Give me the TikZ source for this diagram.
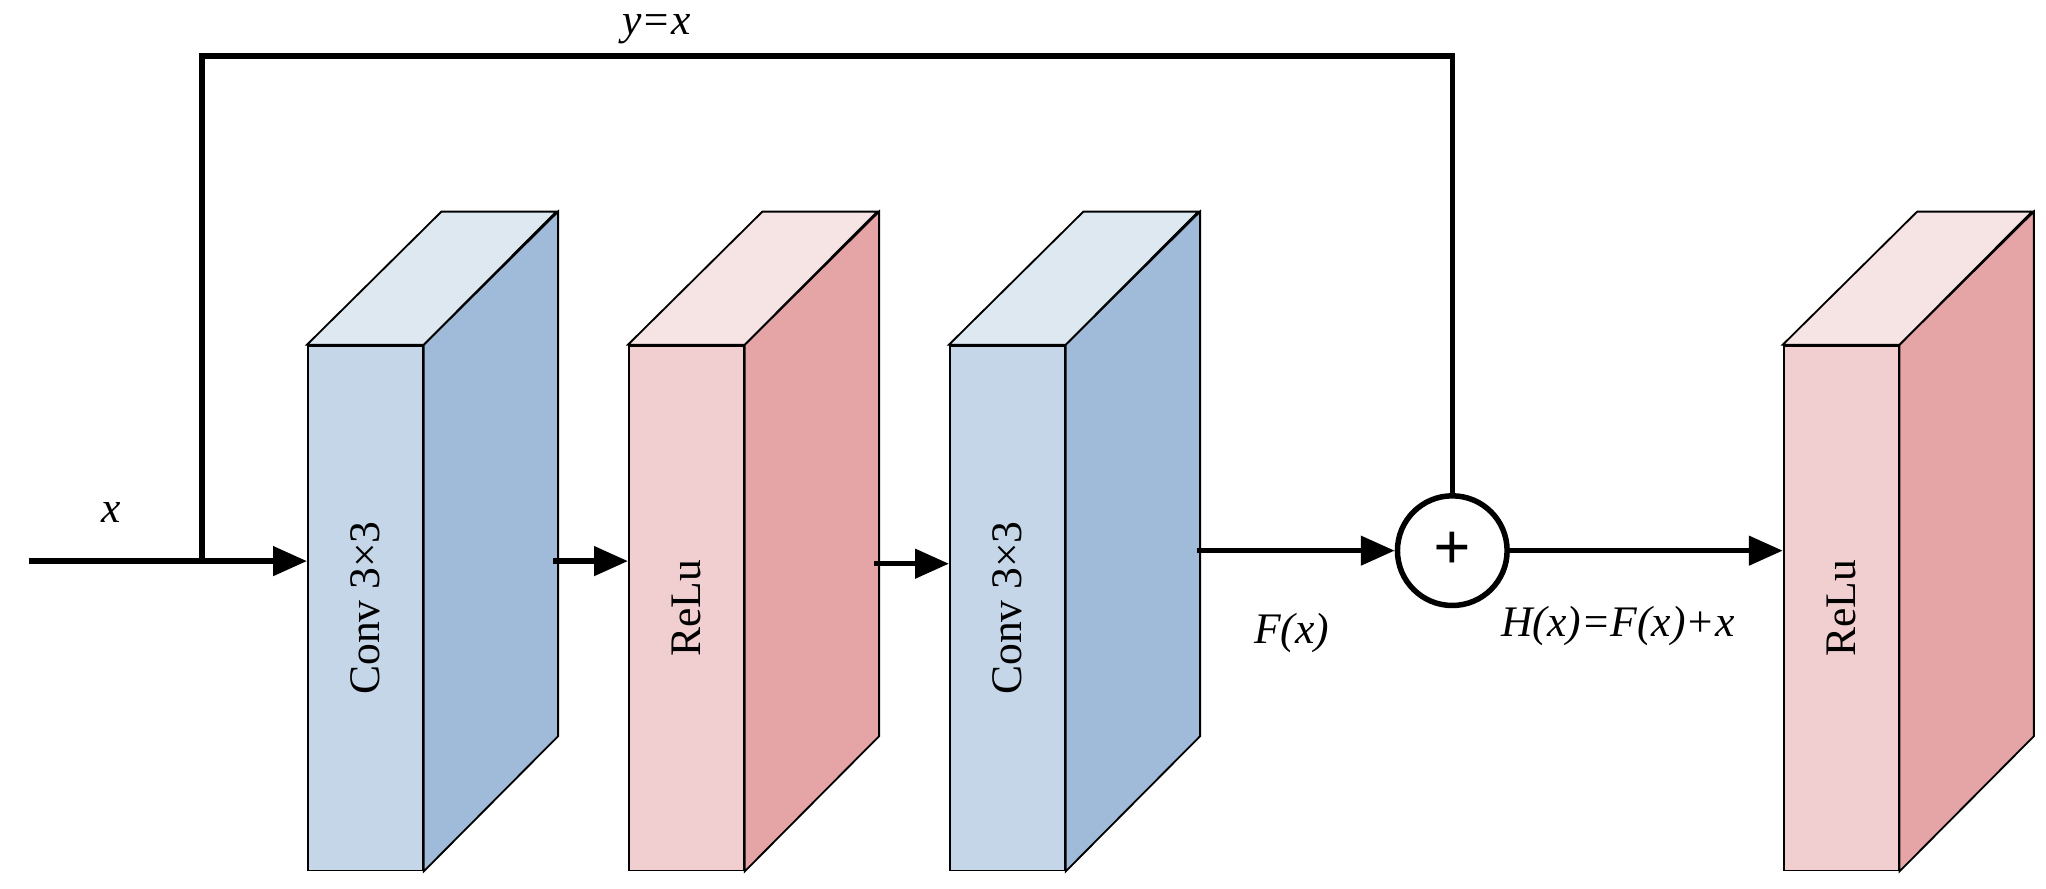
\documentclass[tikz,border=0pt]{standalone}
\usepackage{fontspec}
\setmainfont{Liberation Serif}
\usetikzlibrary{arrows.meta,calc}
\definecolor{bfront}{HTML}{C5D6E8}
\definecolor{bside}{HTML}{A0BBD9}
\definecolor{btop}{HTML}{DDE8F1}
\definecolor{pfront}{HTML}{F1CFD0}
\definecolor{pside}{HTML}{E5A5A6}
\definecolor{ptop}{HTML}{F6E3E4}
% one layer: name, left x, colour prefix, label
\newcommand*{\layer}[4]{%
  \node[face, fill=#3front] (#1) at (#2+44,466) {};
  \fill[#3side, draw=black, thin] (#1.north east) -- ++(103,-102) -- ++(0,402) -- (#1.south east) -- cycle;
  \fill[#3top, draw=black, thin] (#1.north west) -- ++(103,-102) -- ++(88,0) -- (#1.north east) -- cycle;
  \node[rotate=90, font=\fontsize{9.5}{11}\selectfont] at (#1) {#4};
}
\begin{document}
\begin{tikzpicture}[x=0.01cm, y=-0.01cm,
  face/.style={draw=black, thin, minimum width=0.88cm, minimum height=4.02cm, inner sep=0pt},
  flow/.style={line width=1.2pt, -{Triangle[length=0.26cm,width=0.22cm]}},
  lbl/.style={font=\itshape\fontsize{9.5}{11}\selectfont}]
  \useasboundingbox (0,0) rectangle (1568,681);
  \layer{conv1}{236}{b}{Conv 3\texttimes3}
  \layer{relu1}{482}{p}{ReLu}
  \layer{conv2}{728}{b}{Conv 3\texttimes3}
  \layer{relu2}{1367}{p}{ReLu}
  \node[circle, draw=black, line width=1.2pt, minimum size=0.84cm, inner sep=0pt,
    font=\bfseries\Large] (add) at (1113,422) {+};
  \coordinate (in) at (22,430);
  \coordinate (split) at (155,430);
  \coordinate (out1) at (424,430);
  \coordinate (out2) at (670,432);
  \coordinate (out3) at (917,422);
  \draw[line width=1.2pt] (in) -- (split);
  \draw[flow] (split) -- (conv1.west |- split);
  \draw[line width=1.2pt] (split) |- (1113,43) -- (add.north);
  \draw[flow] (out1) -- (relu1.west |- out1);
  \draw[flow] (out2) -- (conv2.west |- out2);
  \draw[flow] (out3) -- (add.west);
  \draw[flow] (add.east) -- (relu2.west |- add);
  \node[lbl] at (85,393) {x};
  \node[lbl] at (503,22) {y=x};
  \node[lbl] at (990,485) {F(x)};
  \node[lbl] at (1240,480) {H(x)=F(x)+x};
\end{tikzpicture}
\end{document}
